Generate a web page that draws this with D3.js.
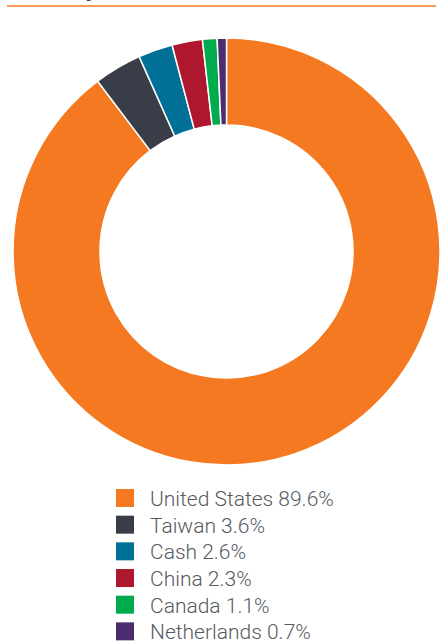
<!DOCTYPE html>
<html lang="en">
<head>
    <meta charset="UTF-8">
    <title>Country Allocation</title>
    <script src="https://d3js.org/d3.v7.min.js"></script>
    <style>
        body { margin: 0; background: #fff; }
    </style>
</head>
<body>
</body>
<script>
    const countries = ["United States", "Taiwan", "Cash", "China", "Canada", "Netherlands"];
    const weights = [89.6, 3.6, 2.6, 2.3, 1.1, 0.7];
    const colours = ["#f47920", "#393d47", "#007096", "#ae172e", "#00ab4e", "#4c2c6e"];

    const WIDTH = 446, HEIGHT = 642;
    const CX = 226.5, CY = 251.5, OUTER = 213.5, INNER = 126.5;

    const svg = d3.select("body").append("svg").attr("width", WIDTH).attr("height", HEIGHT);

    // title is cut off by the crop, only its descender shows
    svg.append("text")
        .attr("x", 97).attr("y", -3)
        .attr("text-anchor", "end")
        .style("font-family", "Liberation Sans")
        .style("font-weight", "bold")
        .style("font-size", "20px")
        .style("fill", "#393d47")
        .text("Country");

    svg.append("line")
        .attr("x1", 7).attr("x2", 436).attr("y1", 6).attr("y2", 6)
        .style("stroke", "#f47920").style("stroke-width", 1.5);

    const pie = d3.pie().sort(null).value(d => d);
    const arc = d3.arc().innerRadius(INNER).outerRadius(OUTER);

    const g = svg.append("g").attr("transform", `translate(${CX},${CY})`);
    g.selectAll("path")
        .data(pie(weights))
        .enter().append("path")
        .attr("d", arc)
        .style("fill", (d, i) => colours[i])
        .style("stroke", "white")
        .style("stroke-width", 1.5);

    const legend = svg.append("g").attr("transform", "translate(116,489)");
    const rows = legend.selectAll("g")
        .data(countries)
        .enter().append("g")
        .attr("transform", (d, i) => `translate(0,${i * 26.67})`);
    rows.append("rect")
        .attr("width", 18).attr("height", 18)
        .style("fill", (d, i) => colours[i]);
    rows.append("text")
        .attr("x", 34).attr("y", 17)
        .style("font-family", "Roboto")
        .style("font-weight", 300)
        .style("font-size", "21px")
        .style("fill", "#555a62")
        .text((d, i) => `${d} ${weights[i]}%`);
</script>
</html>
